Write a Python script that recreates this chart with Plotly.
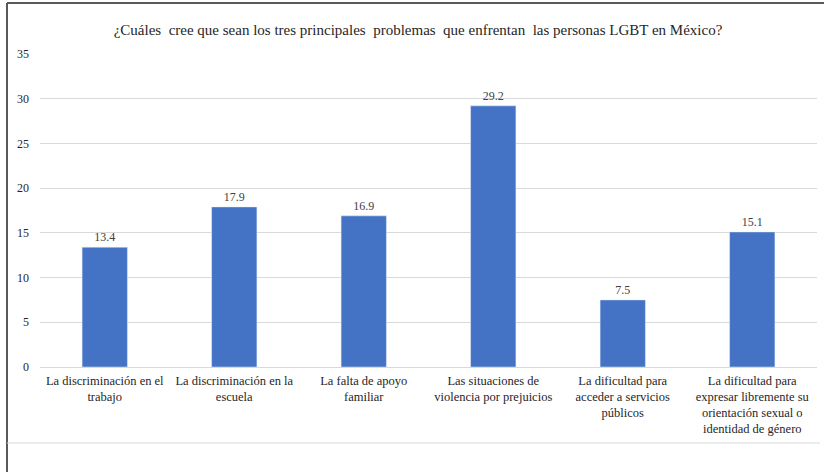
import plotly.graph_objects as go

categories = [
    "La discriminación en el trabajo",
    "La discriminación en la escuela",
    "La falta de apoyo familiar",
    "Las situaciones de violencia por prejuicios",
    "La dificultad para acceder a servicios públicos",
    "La dificultad para expresar libremente su orientación sexual o identidad de género",
]
tick_labels = [
    "La discriminación en el<br>trabajo",
    "La discriminación en la<br>escuela",
    "La falta de apoyo<br>familiar",
    "Las situaciones de<br>violencia por prejuicios",
    "La dificultad para<br>acceder a servicios<br>públicos",
    "La dificultad para<br>expresar libremente su<br>orientación sexual o<br>identidad de género",
]
values = [13.4, 17.9, 16.9, 29.2, 7.5, 15.1]
y_ticks = [0, 5, 10, 15, 20, 25, 30, 35]
title_text = "¿Cuáles  cree que sean los tres principales  problemas  que enfrentan  las personas LGBT en México?"

W, H = 824, 472
L, R, T, B = 40, 7, 54, 105
pw, ph = W - L - R, H - T - B

def px_x(x):
    return (x - L) / pw

def px_y(y):
    return (H - B - y) / ph

FONT = "Liberation Serif"

fig = go.Figure(go.Bar(
    x=categories, y=values,
    marker_color="#4472C4",
    width=0.35,
    text=[f"{v:.1f}" for v in values],
    textposition="outside",
    textfont=dict(family=FONT, size=12, color="#404040"),
    cliponaxis=False,
))

fig.update_layout(
    width=W, height=H,
    margin=dict(l=L, r=R, t=T, b=B),
    paper_bgcolor="white", plot_bgcolor="white",
    showlegend=False,
    font=dict(family=FONT, size=12, color="#404040"),
    title=dict(text=title_text, x=418 / W, xanchor="center",
               y=1 - 30 / H, yanchor="middle",
               font=dict(family=FONT, size=15, color="#262626")),
    xaxis=dict(tickvals=categories, ticktext=tick_labels, showgrid=False,
               showline=False, ticks="", ticklabelstandoff=4,
               tickfont=dict(family=FONT, size=12.5, color="#262626")),
    yaxis=dict(range=[0, 35], tickvals=y_ticks, showgrid=True,
               gridcolor="#D9D9D9", gridwidth=1, zeroline=True,
               zerolinecolor="#D9D9D9", zerolinewidth=1, showline=False,
               ticks="", ticklabelstandoff=10,
               tickfont=dict(family=FONT, size=12, color="#262626")),
    shapes=[
        dict(type="line", xref="paper", yref="paper",
             x0=px_x(7), x1=px_x(830), y0=px_y(3), y1=px_y(3),
             line=dict(color="#595959", width=2)),
        dict(type="line", xref="paper", yref="paper",
             x0=px_x(7), x1=px_x(7), y0=px_y(3), y1=px_y(480),
             line=dict(color="#595959", width=2)),
        dict(type="line", xref="paper", yref="paper",
             x0=px_x(7), x1=px_x(820), y0=px_y(443), y1=px_y(443),
             line=dict(color="#D9D9D9", width=1)),
    ],
)

fig.write_html("out.html")
